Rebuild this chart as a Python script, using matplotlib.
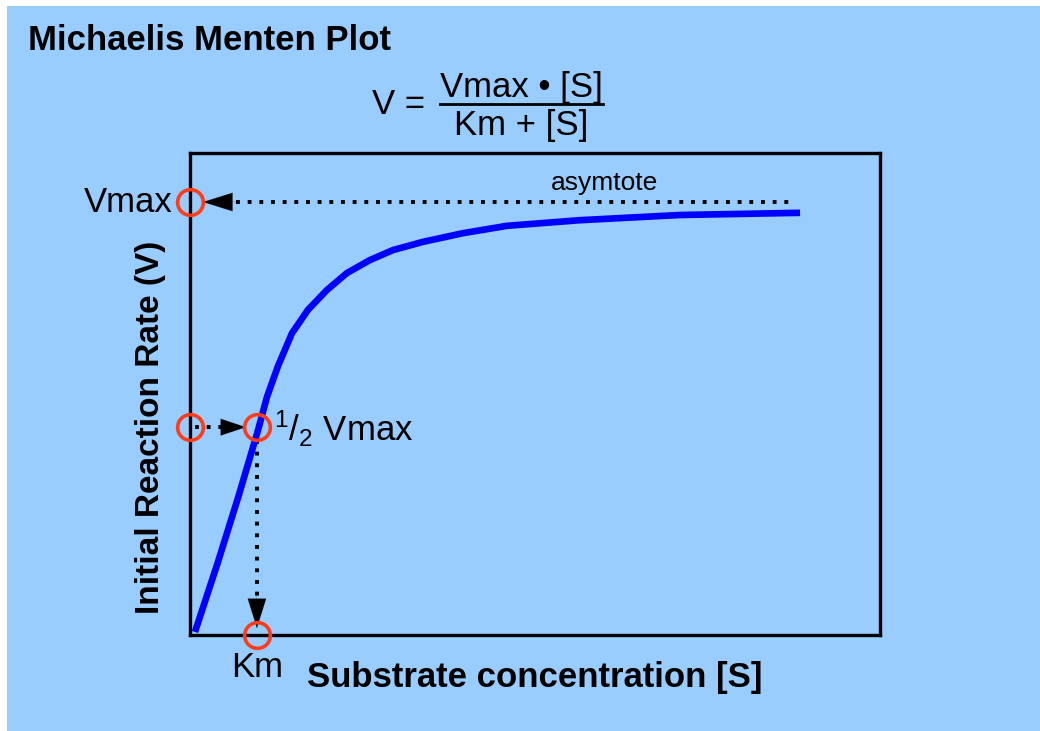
import matplotlib
matplotlib.use('Agg')
from matplotlib import pyplot as plt
from matplotlib.patches import Rectangle
from matplotlib.lines import Line2D

plt.rcParams['font.family'] = ['Liberation Sans', 'DejaVu Sans']
plt.rcParams['mathtext.fontset'] = 'custom'
plt.rcParams['mathtext.rm'] = 'Liberation Sans'
plt.rcParams['mathtext.it'] = 'Liberation Sans'

# curve (substrate conc. vs rate, Vmax = 1)
conc = [0.072, 0.400, 0.700, 0.986, 1.116, 1.275, 1.478, 1.710, 1.986, 2.275, 2.609,
        2.942, 3.377, 3.957, 4.594, 5.652, 7.101, 8.841]
rate = [0.007, 0.166, 0.319, 0.473, 0.550, 0.621, 0.697, 0.751, 0.797, 0.836, 0.866,
        0.889, 0.908, 0.928, 0.945, 0.958, 0.970, 0.975]

vmax = 1.0
half_vmax = 0.48
km = 0.97
asym_start = 0.66
asym_end = 8.74

BG = '#99CCFF'
RED = '#FF3D1A'

fig = plt.figure(figsize=(10.4, 7.31), dpi=100)
fig.patch.set_facecolor('white')
fig.add_artist(Rectangle((7 / 1040, 0), 1, 1 - 6 / 731, transform=fig.transFigure,
                         facecolor=BG, edgecolor='none', zorder=-10))

ax = fig.add_axes([190 / 1040, 1 - 635 / 731, 690 / 1040, 482 / 731])
ax.set_facecolor('none')
ax.set_xlim(0, 10)
ax.set_ylim(0, 482 / 433)
ax.set_xticks([])
ax.set_yticks([])
for s in ax.spines.values():
    s.set_linewidth(2.4)
    s.set_color('black')

ax.plot(conc, rate, color='#0000FF', lw=4.8, solid_capstyle='butt',
        solid_joinstyle='round', zorder=3)

dots = dict(color='black', lw=2.8, linestyle=(0, (1, 2.0)), zorder=2)
big_head = dict(arrowstyle='-|>,head_length=1.05,head_width=0.33', color='black', lw=0.1,
                shrinkA=0, shrinkB=0, mutation_scale=20)
small_head = dict(arrowstyle='-|>,head_length=0.9,head_width=0.3', color='black', lw=0.1,
                  shrinkA=0, shrinkB=0, mutation_scale=20)
# asymptote
ax.plot([asym_start, asym_end], [vmax, vmax], **dots)
ax.annotate('', xy=(0.19, vmax), xytext=(0.7, vmax), arrowprops=big_head)
# half vmax
ax.plot([0.07, 0.5], [half_vmax, half_vmax], **dots)
ax.annotate('', xy=(0.81, half_vmax), xytext=(0.45, half_vmax), arrowprops=small_head)
# down to Km
ax.plot([km, km], [half_vmax - 0.03, 0.08], **dots)
ax.annotate('', xy=(km, 0.016), xytext=(km, 0.1), arrowprops=big_head)

circ = dict(marker='o', markersize=18.5, mfc='none', mec=RED, mew=2.6, ls='none',
            clip_on=False, zorder=5)
ax.plot([0, 0, km, km], [vmax, half_vmax, half_vmax, 0], **circ)

ax.text(-0.25, vmax, 'Vmax', ha='right', va='center', fontsize=25)
ax.text(1.22, half_vmax - 0.005, r'$^{1}/_{2}$ Vmax', ha='left', va='center', fontsize=25)
ax.text(km, -0.075, 'Km', ha='center', va='center', fontsize=25)
ax.text(6.0, vmax + 0.043, 'asymtote', ha='center', va='center', fontsize=19)

ax.set_xlabel('Substrate concentration [S]', fontsize=25, fontweight='bold', labelpad=19, x=0.5)
ax.set_ylabel('Initial Reaction Rate (V)', fontsize=24, fontweight='bold', labelpad=17, y=0.43)

fig.text(28 / 1040, 1 - 40 / 731, 'Michaelis Menten Plot', fontsize=25, fontweight='bold',
         ha='left', va='center')

# formula
fig.text(372 / 1040, 1 - 104 / 731, 'V =', fontsize=25, ha='left', va='center')
fig.text(521 / 1040, 1 - 88 / 731, 'Vmax \u2022 [S]', fontsize=25, ha='center', va='center')
fig.text(521 / 1040, 1 - 125 / 731, 'Km + [S]', fontsize=25, ha='center', va='center')
fig.add_artist(Line2D([440 / 1040, 603 / 1040], [1 - 104 / 731, 1 - 104 / 731],
                      transform=fig.transFigure, color='black', lw=2))

fig.savefig('out.png', dpi=100, facecolor=fig.get_facecolor())
